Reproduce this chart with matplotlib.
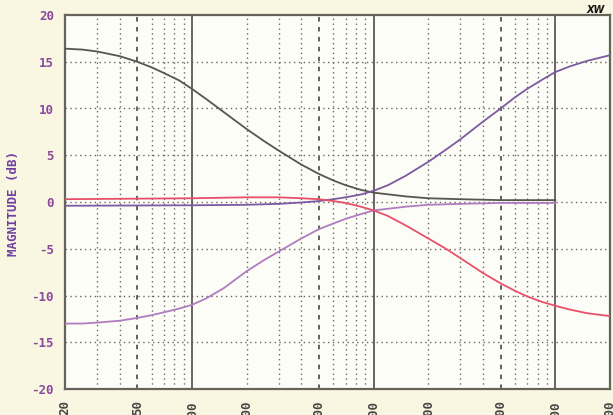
import numpy as np
import matplotlib.pyplot as plt

# Frequencies (Hz) and magnitude (dB)
freq_bass = [20, 25, 30, 40, 50, 60, 70, 85, 100, 120, 150, 200, 250, 300, 400, 500,
             600, 700, 850, 1000, 1500, 2000, 3000, 5000, 10000]
bass_boost = [16.4, 16.3, 16.1, 15.6, 15.0, 14.4, 13.8, 13.0, 12.1, 11.0, 9.6, 7.8, 6.5,
              5.5, 4.0, 3.0, 2.3, 1.8, 1.3, 1.0, 0.6, 0.4, 0.3, 0.2, 0.2]
bass_cut = [-13.0, -13.0, -12.9, -12.7, -12.4, -12.1, -11.8, -11.4, -11.0, -10.3, -9.2,
            -7.4, -6.2, -5.3, -3.9, -2.9, -2.3, -1.8, -1.3, -0.9, -0.5, -0.3, -0.2, -0.1, -0.1]

freq_treble = [20, 100, 200, 300, 400, 500, 600, 700, 850, 1000, 1200, 1500, 2000, 2500,
               3000, 4000, 5000, 6000, 7000, 8500, 10000, 12000, 15000, 20000]
treble_boost = [-0.4, -0.35, -0.3, -0.2, -0.05, 0.1, 0.3, 0.5, 0.8, 1.2, 1.8, 2.8, 4.3,
                5.6, 6.7, 8.6, 10.0, 11.2, 12.1, 13.1, 13.9, 14.5, 15.1, 15.7]
treble_cut = [0.3, 0.4, 0.5, 0.5, 0.4, 0.3, 0.1, -0.1, -0.5, -0.9, -1.5, -2.5, -3.9, -5.0,
              -6.0, -7.6, -8.7, -9.5, -10.1, -10.7, -11.1, -11.5, -11.9, -12.2]

x_ticks = [20, 50, 100, 200, 500, 1000, 2000, 5000, 10000, 20000]
y_ticks = [-20, -15, -10, -5, 0, 5, 10, 15, 20]

fig = plt.figure(figsize=(6.13, 4.15), dpi=100, facecolor='#f9f6e2')
ax = fig.add_axes([65 / 613, 26 / 415, 545 / 613, 374 / 415])
ax.set_facecolor('#fdfdf7')
ax.set_xscale('log')
ax.set_xlim(20, 20000)
ax.set_ylim(-20, 20)

# grid lines
grid_col = '#6e6464'
for y in [-15, -10, -5, 0, 5, 10, 15]:
    ax.axhline(y, color=grid_col, lw=1.0, ls=(0, (1, 2.5)), zorder=1)
for dec in [10, 100, 1000, 10000]:
    for m in [2, 3, 4, 6, 7, 8, 9]:
        f = dec * m
        if 20 < f < 20000:
            ax.axvline(f, color=grid_col, lw=1.0, ls=(0, (1, 2.5)), zorder=1)
    if 20 < dec * 5 < 20000:
        ax.axvline(dec * 5, color='#5a5454', lw=1.3, ls=(0, (2.5, 3)), zorder=1)
for f in [100, 1000, 10000]:
    ax.axvline(f, color='#5e5858', lw=1.3, zorder=1)

# curves
ax.plot(freq_bass, bass_boost, color='#56564c', lw=1.3, zorder=3)
ax.plot(freq_bass, bass_cut, color='#b07cc0', lw=1.3, zorder=3)
ax.plot(freq_treble, treble_boost, color='#7a5aa0', lw=1.3, zorder=3)
ax.plot(freq_treble, treble_cut, color='#e8506a', lw=1.3, zorder=3)

for s in ax.spines.values():
    s.set_color('#65645a')
    s.set_linewidth(1.6)

ax.set_yticks(y_ticks)
ax.set_yticklabels([str(v) for v in y_ticks], color='#8a4a9c', fontsize=9,
                   fontweight='bold', family='DejaVu Sans Mono')
ax.set_xticks(x_ticks)
ax.set_xticklabels([str(v) for v in x_ticks], rotation=90, color='#4a4444',
                   fontsize=9, fontweight='bold', family='DejaVu Sans Mono', va='top')
ax.minorticks_off()
ax.tick_params(length=0, pad=8)

fig.text(13 / 613, 1 - 203 / 415, 'MAGNITUDE (dB)', rotation=90, color='#7040a0', fontsize=9,
         fontweight='bold', family='DejaVu Sans Mono', ha='center', va='center')
fig.text(596 / 613, 1 - 10 / 415, 'XW', color='#111111', fontsize=7, fontweight='bold',
         style='italic', ha='center', va='center')

fig.savefig('out.png', dpi=100, facecolor=fig.get_facecolor())
